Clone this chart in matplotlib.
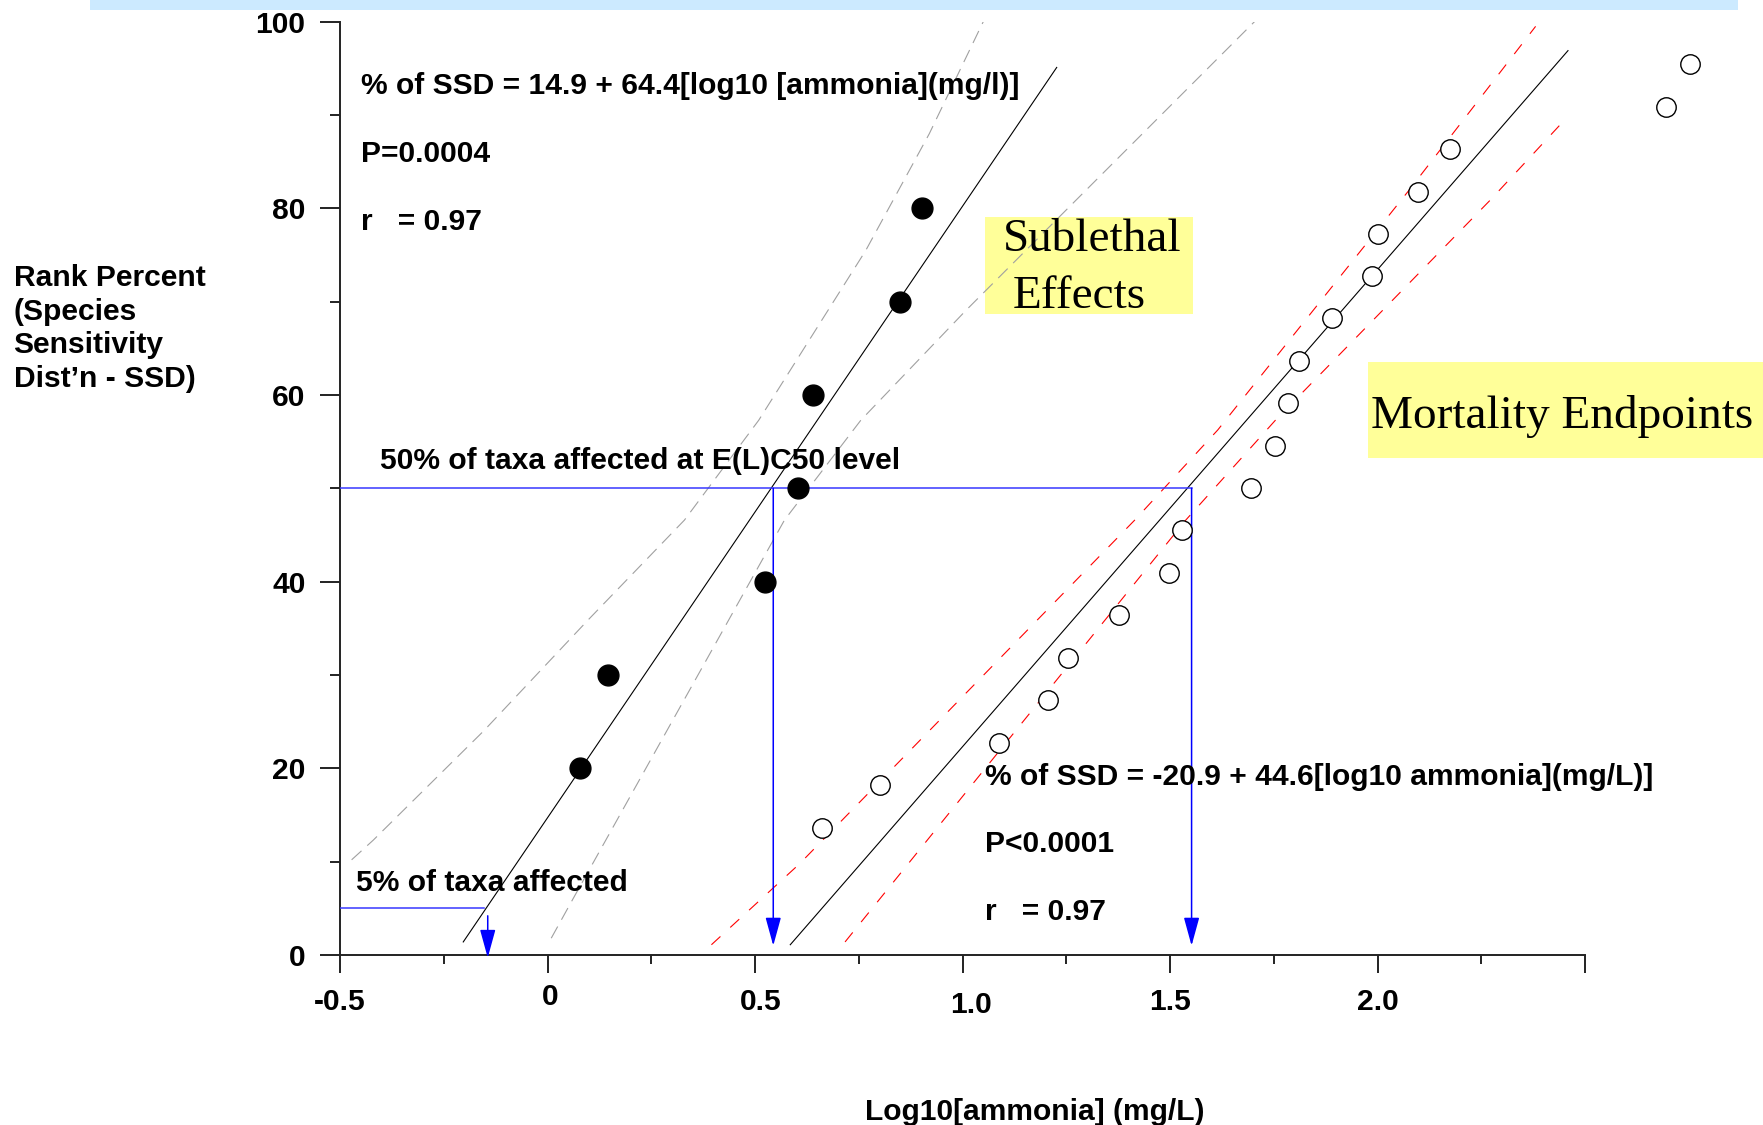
import matplotlib
matplotlib.use('Agg')
import matplotlib.pyplot as plt
from matplotlib.patches import Rectangle
from matplotlib.ticker import FixedLocator
from matplotlib.transforms import ScaledTranslation

# ---------------- data ----------------
sub_x = [0.078, 0.146, 0.525, 0.604, 0.639, 0.850, 0.902]
sub_y = [20, 30, 40, 50, 60, 70, 80]

mort_x = [0.661, 0.800, 1.088, 1.206, 1.255, 1.377, 1.497, 1.529, 1.694, 1.753,
          1.785, 1.810, 1.891, 1.986, 2.002, 2.097, 2.175, 2.695, 2.752]
mort_y = [13.6, 18.2, 22.7, 27.3, 31.8, 36.4, 40.9, 45.5, 50.0, 54.5,
          59.1, 63.6, 68.2, 72.7, 77.3, 81.8, 86.4, 90.9, 95.5]

sub_fit_x = [-0.203, 1.227]
sub_fit_y = [1.4, 95.1]
mort_fit_x = [0.585, 2.459]
mort_fit_y = [1.1, 96.9]

sub_ci_hi_x = [-0.472, -0.42, -0.154, 0.10, 0.33, 0.509, 0.767, 0.92, 1.05]
sub_ci_hi_y = [10.2, 12.3, 24.0, 36.0, 46.6, 57.3, 75.5, 88.0, 100.0]
sub_ci_lo_x = [0.009, 0.06, 0.571, 0.755, 1.009, 1.274, 1.708]
sub_ci_lo_y = [1.8, 5.9, 46.6, 57.3, 69.1, 80.9, 100.2]

mort_ci_hi_x = [0.395, 0.608, 1.415, 1.615, 2.077, 2.381]
mort_ci_hi_y = [1.1, 9.8, 46.6, 56.25, 82.0, 99.5]
mort_ci_lo_x = [0.717, 1.538, 1.754, 2.272, 2.441]
mort_ci_lo_y = [1.4, 46.6, 57.3, 80.9, 89.0]

ec50_level = 50
ec50_x = [0.544, 1.552]
hc5_level = 5
hc5_line_end = -0.154
hc5_arrow_x = -0.144

x_major = [-0.5, 0, 0.5, 1.0, 1.5, 2.0, 2.5]
x_major_labels = ['-0.5', '0', '0.5', '1.0', '1.5', '2.0', '']
x_minor = [-0.25, 0.25, 0.75, 1.25, 1.75, 2.25]
y_major = [0, 20, 40, 60, 80, 100]
y_minor = [10, 30, 50, 70, 90]

eq1 = ["% of SSD = 14.9 + 64.4[log10 [ammonia](mg/l)]", "P=0.0004", "r   = 0.97"]
eq2 = ["% of SSD = -20.9 + 44.6[log10 ammonia](mg/L)]", "P<0.0001", "r   = 0.97"]
ylabel_lines = ["Rank Percent", "(Species", "Sensitivity", "Dist\u2019n - SSD)"]
xlabel = "Log10[ammonia] (mg/L)"

# ---------------- figure ----------------
W, H = 1763, 1125
DPI = 100
fig = plt.figure(figsize=(W / DPI, H / DPI), dpi=DPI)
fig.patch.set_facecolor('white')

def fx(px):
    return px / W

def fy(py):
    return 1 - py / H

SANS = ['Liberation Sans', 'Arial', 'DejaVu Sans']
SERIF = ['Liberation Serif', 'Times New Roman', 'DejaVu Serif']
FS = 21.6

# light blue strip at the top
fig.patches.append(Rectangle((fx(90), fy(10)), (1738 - 90) / W, 10 / H,
                             transform=fig.transFigure, facecolor='#cceaff',
                             edgecolor='none', zorder=-2))
# yellow label boxes
fig.patches.append(Rectangle((fx(985), fy(314)), (1193 - 985) / W, (314 - 217) / H,
                             transform=fig.transFigure, facecolor='#ffff99',
                             edgecolor='none', zorder=-2))
fig.patches.append(Rectangle((fx(1368), fy(458)), (1763 - 1368) / W, (458 - 362) / H,
                             transform=fig.transFigure, facecolor='#ffff99',
                             edgecolor='none', zorder=-2))

ax = fig.add_axes([fx(340), fy(955), (1585 - 340) / W, (955 - 21.7) / H])
ax.patch.set_visible(False)
ax.set_xlim(-0.5, 2.5)
ax.set_ylim(0, 100)

for s in ['top', 'right']:
    ax.spines[s].set_visible(False)
for s in ['left', 'bottom']:
    ax.spines[s].set_linewidth(1.4)
    ax.spines[s].set_color('#222222')

ax.xaxis.set_major_locator(FixedLocator(x_major))
ax.xaxis.set_minor_locator(FixedLocator(x_minor))
ax.set_xticklabels(x_major_labels)
ax.yaxis.set_major_locator(FixedLocator(y_major))
ax.yaxis.set_minor_locator(FixedLocator(y_minor))
ax.set_yticklabels([str(v) for v in y_major])

ax.tick_params(axis='x', which='major', direction='out', length=13, width=1.4,
               color='#222222', pad=10.5)
ax.tick_params(axis='x', which='minor', direction='out', length=6.5, width=1.4,
               color='#222222')
ax.tick_params(axis='y', which='major', direction='out', length=14.4, width=1.4,
               color='#222222', pad=10.5)
ax.tick_params(axis='y', which='minor', direction='out', length=7.2, width=1.4,
               color='#222222')
for lab in ax.get_xticklabels() + ax.get_yticklabels():
    lab.set_fontfamily(SANS)
    lab.set_fontweight('bold')
    lab.set_fontsize(FS)

# small individual shifts of the x tick labels, as in the reference (pixels)
label_shift_px = {'0': (3, 5), '0.5': (6, 0), '1.0': (9, -3)}
for lab in ax.get_xticklabels():
    t = lab.get_text()
    if t in label_shift_px:
        dx, dy = label_shift_px[t]
        lab.set_transform(lab.get_transform() +
                          ScaledTranslation(dx / DPI, dy / DPI, fig.dpi_scale_trans))

# confidence bands
ax.plot(sub_ci_hi_x, sub_ci_hi_y, color='#a0a0a0', lw=0.8, ls=(0, (12, 7)), zorder=2)
ax.plot(sub_ci_lo_x, sub_ci_lo_y, color='#a0a0a0', lw=0.8, ls=(0, (12, 7)), zorder=2)
ax.plot(mort_ci_hi_x, mort_ci_hi_y, color='#ff0000', lw=0.8, ls=(0, (11, 12)), zorder=2)
ax.plot(mort_ci_lo_x, mort_ci_lo_y, color='#ff0000', lw=0.8, ls=(0, (11, 12)), zorder=2)

# regression lines
ax.plot(sub_fit_x, sub_fit_y, color='black', lw=0.8, zorder=3)
ax.plot(mort_fit_x, mort_fit_y, color='black', lw=0.8, zorder=3)

# blue guide lines
BLUE_L = '#3838ff'
BLUE = '#0000ff'
ax.plot([-0.5, ec50_x[1]], [ec50_level, ec50_level], color=BLUE_L, lw=1.1, zorder=3)
ax.plot([-0.5, hc5_line_end], [hc5_level, hc5_level], color=BLUE_L, lw=1.1, zorder=3)
astyle = '-|>,head_length=17.5,head_width=4.8'
for xv in ec50_x:
    ax.annotate('', xy=(xv, 1.0), xytext=(xv, ec50_level),
                arrowprops=dict(arrowstyle=astyle, mutation_scale=1, color=BLUE,
                                lw=1.1, shrinkA=0, shrinkB=0),
                annotation_clip=False, zorder=4)
ax.annotate('', xy=(hc5_arrow_x, -0.3), xytext=(hc5_arrow_x, 4.2),
            arrowprops=dict(arrowstyle=astyle, mutation_scale=1, color=BLUE,
                            lw=1.1, shrinkA=0, shrinkB=0),
            annotation_clip=False, zorder=4)

# data points
ax.plot(sub_x, sub_y, 'o', ms=15, color='black', mec='black', zorder=5, clip_on=False)
ax.plot(mort_x, mort_y, 'o', ms=14, mfc='white', mec='black', mew=1.0, zorder=5,
        clip_on=False)

# annotation texts
def btext(x, y, s, **kw):
    fig.text(fx(x), fy(y), s, fontsize=FS, fontweight='bold', family=SANS,
             va='baseline', ha='left', **kw)

for i, s in enumerate(eq1):
    btext(361, 94.5 + 67.5 * i, s)
for i, s in enumerate(eq2):
    btext(985, 785 + 67.5 * i, s)
btext(380, 469, "50% of taxa affected at E(L)C50 level")
btext(356, 891, "5% of taxa affected")

for i, s in enumerate(ylabel_lines):
    btext(13.5, 286 + 33.7 * i, s)

fig.text(fx(865), fy(1120), xlabel, fontsize=FS, fontweight='bold', family=SANS,
         va='baseline', ha='left')

# serif box labels
fig.text(fx(1003), fy(251), "Sublethal", fontsize=34, family=SERIF, va='baseline', ha='left')
fig.text(fx(1013), fy(308), "Effects", fontsize=34, family=SERIF, va='baseline', ha='left')
fig.text(fx(1370.6), fy(428), "Mortality Endpoints", fontsize=34, family=SERIF,
         va='baseline', ha='left')

fig.savefig('out.png', dpi=DPI)
